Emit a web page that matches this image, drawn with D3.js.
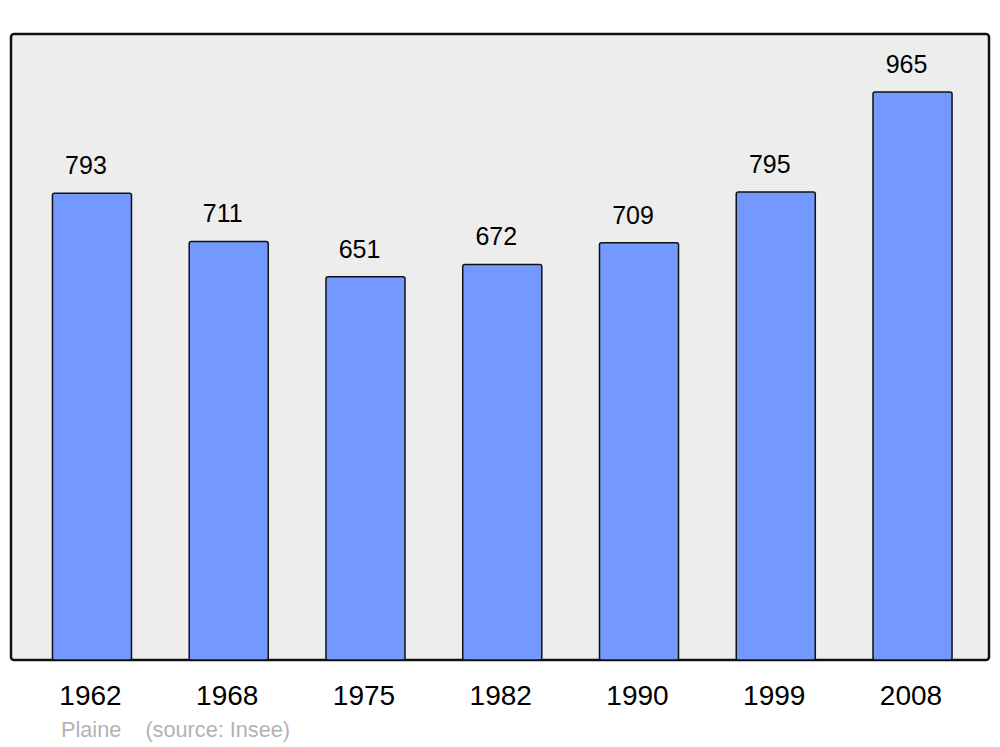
<!DOCTYPE html>
<html><head><meta charset="utf-8">
<script src="https://cdn.jsdelivr.net/npm/d3@7"></script>
<style>html,body{margin:0;padding:0;background:#fff;}svg{display:block;}</style>
</head><body>
<script>
const years = ["1962","1968","1975","1982","1990","1999","2008"];
const population = [793, 711, 651, 672, 709, 795, 965];
const commune = "Plaine";
const sourceText = "(source: Insee)";

const W = 1000, H = 747;
const svg = d3.select("body").append("svg").attr("width", W).attr("height", H)
  .style("font-family", "'Liberation Sans', Arial, sans-serif");

const frame = {x0: 11, y0: 34, x1: 989, y1: 660};
svg.append("rect").attr("x", frame.x0).attr("y", frame.y0)
  .attr("width", frame.x1 - frame.x0).attr("height", frame.y1 - frame.y0)
  .attr("rx", 3).attr("fill", "#ededed").attr("stroke", "#111").attr("stroke-width", 2.5);

const x = d3.scaleBand().domain(years).range([23.6, 980.9]).paddingInner(0.422).paddingOuter(0.211);
const y = d3.scaleLinear().domain([0, 1063.4]).range([frame.y1, frame.y0]);

const g = svg.append("g");
g.selectAll("rect.bar").data(years).join("rect").attr("class", "bar")
  .attr("x", d => x(d)).attr("width", x.bandwidth())
  .attr("y", (d, i) => y(population[i])).attr("height", (d, i) => y(0) - y(population[i]))
  .attr("rx", 2).attr("fill", "#7399ff").attr("stroke", "#111").attr("stroke-width", 1.5);

g.selectAll("text.val").data(years).join("text").attr("class", "val")
  .attr("x", d => x(d) + x.bandwidth() / 2 - 6)
  .attr("y", (d, i) => y(population[i]) - 19)
  .attr("text-anchor", "middle").attr("font-size", 25).attr("fill", "#000")
  .text((d, i) => population[i]);

g.selectAll("text.yr").data(years).join("text").attr("class", "yr")
  .attr("x", d => x(d) + x.bandwidth() / 2 - 1.5).attr("y", 705)
  .attr("text-anchor", "middle").attr("font-size", 28).attr("fill", "#000")
  .text(d => d);

svg.append("text").attr("x", 61).attr("y", 737).attr("font-size", 21.7).attr("fill", "#b3b3b3")
  .attr("xml:space", "preserve").text(commune + "    " + sourceText);
</script>
</body></html>
